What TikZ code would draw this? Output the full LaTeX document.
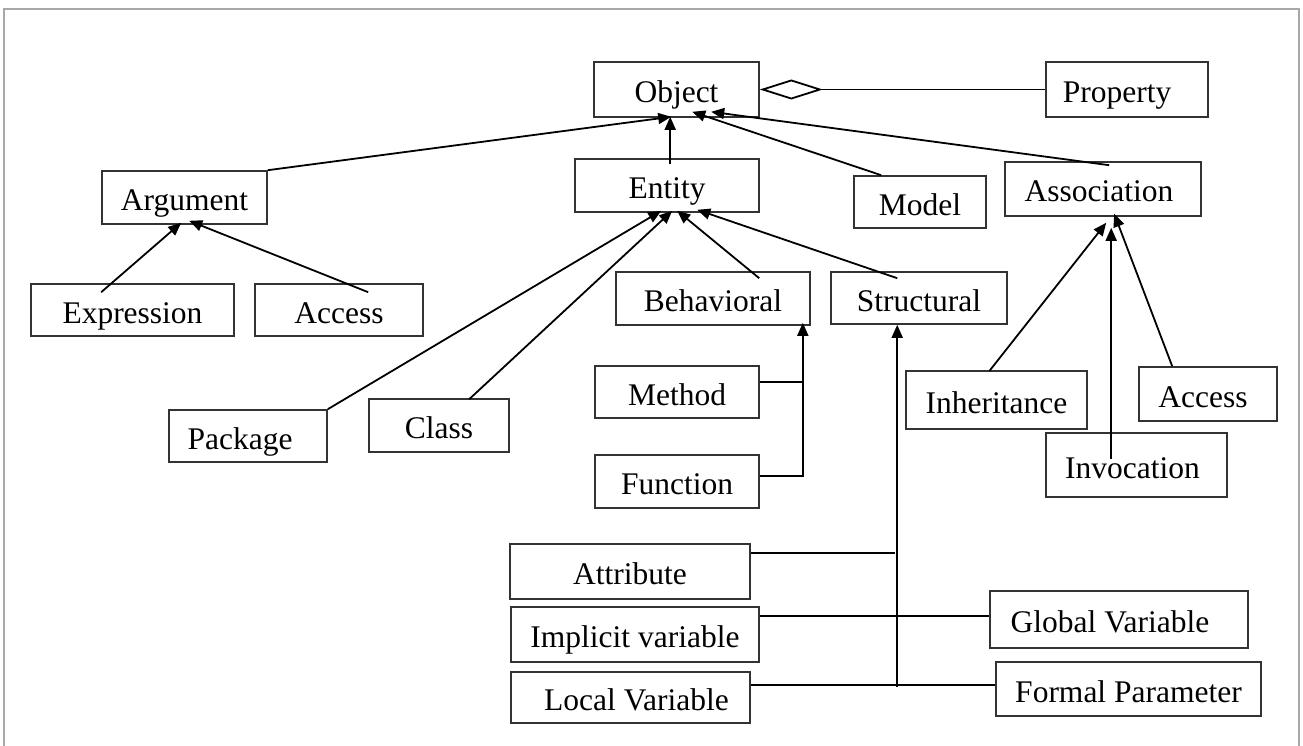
\documentclass[tikz,border=0pt]{standalone}
\usepackage{fontspec}
\setmainfont{Liberation Serif}
\usetikzlibrary{arrows.meta,calc}
\definecolor{boxline}{HTML}{333333}
\definecolor{framegray}{HTML}{A8A8A8}
\tikzset{
  box/.style={draw=boxline, line width=1.6pt, inner sep=0pt, text height=26pt, text depth=0pt, font=\fontsize{31.5}{36}\selectfont},
  conn/.style={draw=black, line width=1.8pt},
  arr/.style={conn, -{Triangle[length=13pt,width=11pt]}},
  agg/.style={conn, {Diamond[open,length=63pt,width=20pt]}-},
}
\begin{document}
\begin{tikzpicture}[x=1pt,y=-1pt]
\useasboundingbox (0,0) rectangle (1303,746);
\draw[framegray, line width=2.5pt] (4,760) -- (4,9) -- (1299,9) -- (1299,760);

% boxes
\node[box, minimum width=165pt, minimum height=55pt] (object) at (676.5,89.5) {Object};
\node[box, minimum width=162pt, minimum height=55pt] (property) at (1127,89.5) {Property\hspace*{20pt}};
\node[box, minimum width=165pt, minimum height=53pt] (argument) at (184.5,197.5) {Argument};
\node[box, minimum width=184pt, minimum height=53pt] (entity) at (667,185.5) {Entity};
\node[box, minimum width=132pt, minimum height=52pt] (model) at (920,202) {Model};
\node[box, minimum width=196pt, minimum height=54pt] (association) at (1103,189) {Association\hspace*{8pt}};
\node[box, minimum width=203pt, minimum height=52pt] (expression) at (132.5,310) {Expression};
\node[box, minimum width=168pt, minimum height=52pt] (accessL) at (339,310) {Access};
\node[box, minimum width=194pt, minimum height=53pt] (behavioral) at (713,298.5) {Behavioral};
\node[box, minimum width=176pt, minimum height=52pt] (structural) at (919,298) {Structural};
\node[box, minimum width=158pt, minimum height=52pt] (package) at (248,436) {Package\hspace*{16pt}};
\node[box, minimum width=140pt, minimum height=53pt] (class) at (439,425.5) {Class};
\node[box, minimum width=164pt, minimum height=52pt] (method) at (677,392) {Method};
\node[box, minimum width=164pt, minimum height=53pt] (function) at (677,481.5) {Function};
\node[box, minimum width=181pt, minimum height=58pt] (inheritance) at (996.5,400) {Inheritance};
\node[box, minimum width=138pt, minimum height=54pt] (accessR) at (1208,394) {Access\hspace*{10pt}};
\node[box, minimum width=181pt, minimum height=64pt] (invocation) at (1136.5,465) {Invocation\hspace*{8pt}};
\node[box, minimum width=240pt, minimum height=55pt] (attribute) at (630,571.5) {Attribute};
\node[box, minimum width=248pt, minimum height=55pt] (implicit) at (635,634.5) {Implicit variable};
\node[box, minimum width=239pt, minimum height=51pt] (local) at (630.5,697.5) {\hspace*{12pt}Local Variable};
\node[box, minimum width=258pt, minimum height=57pt] (global) at (1119,619.5) {Global Variable\hspace*{18pt}};
\node[box, minimum width=265pt, minimum height=54pt] (formal) at (1128.5,689) {Formal Parameter};

% aggregation
\draw[agg] (object.east) -- (property.west);

% to Object
\draw[arr] (argument.north east) -- ($(object.south west)+(78,-1)$);
\draw[arr] ($(entity.north west)+(96,6)$) -- ($(object.south west)+(77,-1)$);
\draw[arr] ($(model.north west)+(28,0)$) -- ($(object.south west)+(99,-6)$);
\draw[arr] ($(association.north west)+(105,4)$) -- ($(object.south west)+(118,-6)$);

% to Argument
\draw[arr] ($(expression.north west)+(71,9)$) -- ($(argument.south west)+(80,-2)$);
\draw[arr] ($(accessL.north west)+(114,9)$) -- ($(argument.south west)+(88,-4)$);

% to Entity
\draw[arr] (package.north east) -- ($(entity.south west)+(87,-2)$);
\draw[arr] ($(class.north west)+(101,1)$) -- ($(entity.south west)+(98,-2)$);
\draw[arr] ($(behavioral.north west)+(144,7)$) -- ($(entity.south west)+(103,-2)$);
\draw[arr] ($(structural.north west)+(67,7)$) -- ($(entity.south west)+(123,-3)$);

% to Behavioral
\draw[conn] ($(method.north east)+(0,17)$) -- ($(method.north east)+(43,17)$);
\draw[arr] ($(function.north east)+(0,22)$) -| ($(behavioral.south east)+(-8,-3)$);

% to Structural
\coordinate (sj) at ($(structural.south west)+(67,362)$);
\draw[arr] (sj) -- ($(structural.south west)+(67,0)$);
\draw[conn] ($(attribute.north east)+(0,10)$) -- ($(attribute.north east)+(144,10)$);
\draw[conn] ($(implicit.north east)+(0,10)$) -- ($(global.north west)+(0,26)$);
\draw[conn] ($(local.north east)+(0,14)$) -- ($(formal.north west)+(0,24)$);

% to Association
\draw[arr] ($(inheritance.north west)+(84,1)$) -- ($(association.south west)+(102,6)$);
\draw[arr] ($(invocation.north west)+(66,27)$) -- ($(association.south west)+(107,11)$);
\draw[arr] ($(accessR.north west)+(34,0)$) -- ($(association.south west)+(110,-3)$);
\end{tikzpicture}
\end{document}
